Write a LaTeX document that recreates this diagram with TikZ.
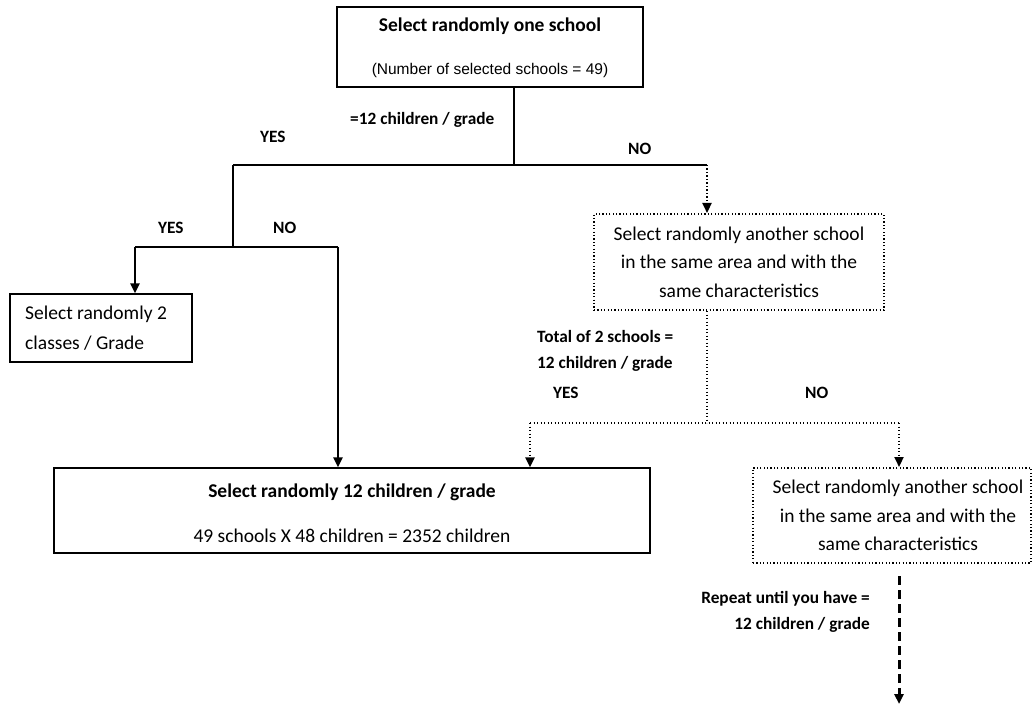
\documentclass[tikz,border=0pt]{standalone}
\usepackage{fontspec}
\setmainfont{Carlito}
\newfontfamily\arialfont{Liberation Sans}
\usetikzlibrary{arrows.meta}

\begin{document}
\begin{tikzpicture}[x=1pt, y=-1pt,
  boxtext/.style={font=\fontsize{19.5}{28.5}\selectfont, inner sep=0pt},
  lbl/.style={font=\bfseries\fontsize{17.3}{26}\selectfont, inner sep=0pt},
  plainbox/.style={draw, line width=1.3pt, inner sep=0pt},
  dotbox/.style={draw, line width=2pt, dash pattern=on 1.2pt off 2.2pt, inner sep=0pt, align=center,
    font=\fontsize{19.5}{28.5}\selectfont},
  plainline/.style={line width=1.3pt},
  thickarrow/.style={line width=2.6pt, -{Triangle[length=10pt,width=9pt]}},
  dotline/.style={line width=2.2pt, dash pattern=on 1.3pt off 2.2pt},
  dotarrow/.style={dotline, -{Triangle[length=10pt,width=9pt]}},
  dasharrow/.style={line width=3pt, dash pattern=on 9pt off 5pt, -{Triangle[length=10pt,width=9pt]}}]
  \useasboundingbox (0,0) rectangle (1033,711);

  % boxes
  \node[plainbox, minimum width=306pt, minimum height=80pt] (start) at (490,47) {};
  \node[boxtext, font=\bfseries\fontsize{19.5}{24}\selectfont] (starttop) at (490,26) {Select randomly one school};
  \node[inner sep=0pt, font=\arialfont\fontsize{15.5}{19}\selectfont] (startsub) at (490,70) {(Number of selected schools = 49)};

  \node[plainbox, minimum width=182pt, minimum height=68pt] (twoclass) at (101,328) {};
  \node[boxtext, anchor=west, align=left, font=\fontsize{19.5}{30}\selectfont] (twoclasstxt) at (25,328) {Select randomly 2\\classes / Grade};

  \node[plainbox, minimum width=596pt, minimum height=85pt] (twelve) at (352,510.5) {};
  \node[boxtext, font=\bfseries\fontsize{19.5}{24}\selectfont] (twelvetop) at (352,492) {Select randomly 12 children / grade};
  \node[boxtext] (twelvesub) at (352,536) {49 schools X 48 children = 2352 children};

  \node[dotbox, minimum width=290pt, minimum height=96pt] (other1) at (739,262)
    {Select randomly another school\\in the same area and with the\\same characteristics};
  \node[dotbox, minimum width=278pt, minimum height=95pt] (other2) at (892,515.5)
    {\hspace{12pt}Select randomly another school\\\hspace{12pt}in the same area and with the\\\hspace{12pt}same characteristics};

  % labels
  \node[lbl, anchor=west] (q1) at (350,120) {=12 children / grade};
  \node[lbl, anchor=west] (yes1) at (260,137) {YES};
  \node[lbl, anchor=west] (no1) at (628,149) {NO};
  \node[lbl, anchor=west] (yes2) at (158,228) {YES};
  \node[lbl, anchor=west] (no2) at (273,228) {NO};
  \node[lbl, anchor=west, align=left] (q2) at (537,351) {Total of 2 schools =\\12 children / grade};
  \node[lbl, anchor=west] (yes3) at (553,393) {YES};
  \node[lbl, anchor=west] (no3) at (805,393) {NO};
  \node[lbl, anchor=east, align=right] (q3) at (870,612) {Repeat until you have =\\12 children / grade};

  % junctions
  \coordinate (j1) at (514,165);
  \coordinate (l1) at (233,165);
  \coordinate (r1) at (707,165);
  \coordinate (l2) at (233,247);
  \coordinate (ly) at (135,247);
  \coordinate (ln) at (338,247);
  \coordinate (j3) at (707,423);
  \coordinate (dy) at (530,423);
  \coordinate (dn) at (899,423);
  \coordinate (stop) at (899,704);

  % connectors
  \draw[plainline] (start.south -| j1) -- (j1);
  \draw[plainline] (l1) -- (r1);
  \draw[plainline] (l1) -- (l2);
  \draw[plainline] (ly) -- (ln);
  \draw[thickarrow] (ly) -- (twoclass.north -| ly);
  \draw[thickarrow] (ln) -- (twelve.north -| ln);
  \draw[dotarrow] (r1) -- (other1.north -| r1);
  \draw[dotline] (other1.south -| r1) -- (j3);
  \draw[dotline] (dy) -- (dn);
  \draw[dotarrow] (dy) -- (twelve.north -| dy);
  \draw[dotarrow] (dn) -- (other2.north -| dn);
  \draw[dasharrow, shorten <=12pt] (other2.south -| dn) -- (stop);
\end{tikzpicture}
\end{document}
